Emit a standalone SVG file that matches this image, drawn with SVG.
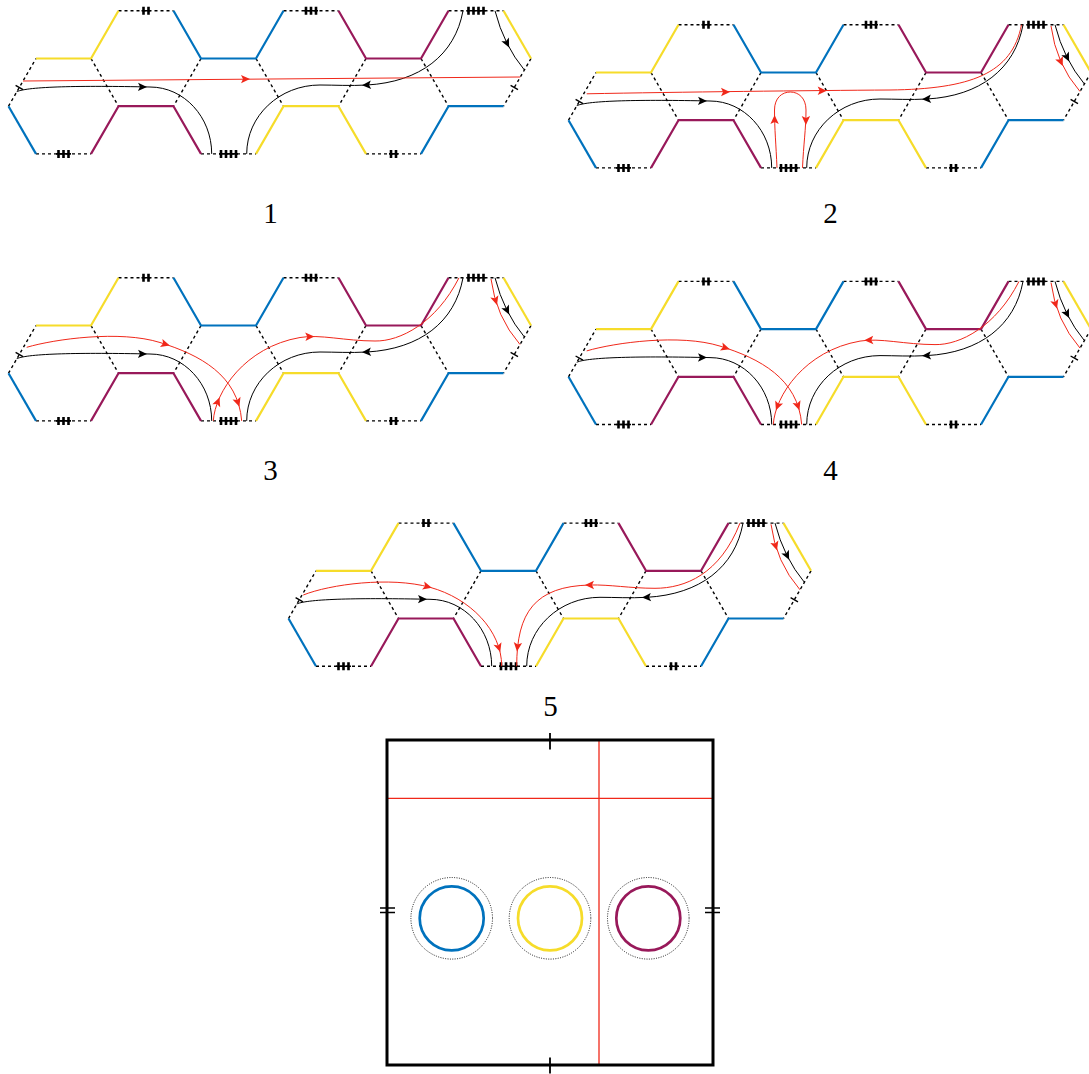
<svg xmlns="http://www.w3.org/2000/svg" width="1089" height="1074" viewBox="0 0 1089 1074">
<style>
.edge{fill:none;stroke-width:2.2;stroke-linejoin:round}
.y{stroke:#F6DC2A}
.b{stroke:#0072BD}
.p{stroke:#98195A}
.dash{fill:none;stroke:#000;stroke-width:1.4;stroke-dasharray:3 3}
.tk{fill:none;stroke:#000;stroke-width:2.6}
.tb{fill:none;stroke:#000;stroke-width:1.6}
.st{fill:none;stroke:#000;stroke-width:1.4}
.blk{fill:none;stroke:#000;stroke-width:1}
.red{fill:none;stroke:#F0281A;stroke-width:1}
.ka{fill:#000}
.ra{fill:#F0281A}
.lbl{font-family:'Liberation Serif','DejaVu Serif',serif;font-size:29px;text-anchor:middle;fill:#000}
</style>
<defs>
<path id="ah" d="M5,0 L-4,-4.2 L-2,0 L-4,4.2 Z"/>
<g id="frame">
<path class="dash" d="M8.5,106.2 L36,58.5 M91,58.5 L118.5,106.2 M36,153.9 L91,153.9 M118.5,10.8 L173.5,10.8 M201,58.5 L173.5,106.2 M201,153.9 L256,153.9 M256,58.5 L283.5,106.2 M283.5,10.8 L338.5,10.8 M366,58.5 L338.5,106.2 M366,153.9 L421,153.9 M421,58.5 L448.5,106.2 M448.5,10.8 L503.5,10.8 M531,58.5 L503.5,106.2"/>
<polyline class="edge y" points="36,58.5 91,58.5 118.5,10.8"/>
<polyline class="edge y" points="256,153.9 283.5,106.2 338.5,106.2 366,153.9"/>
<polyline class="edge y" points="503.5,10.8 531,58.5"/>
<polyline class="edge b" points="8.5,106.2 36,153.9"/>
<polyline class="edge b" points="173.5,10.8 201,58.5 256,58.5 283.5,10.8"/>
<polyline class="edge b" points="421,153.9 448.5,106.2 503.5,106.2"/>
<polyline class="edge p" points="91,153.9 118.5,106.2 173.5,106.2 201,153.9"/>
<polyline class="edge p" points="338.5,10.8 366,58.5 421,58.5 448.5,10.8"/>
<path class="tb" d="M56,153.9 H71 M141.5,10.8 H150.5 M219,153.9 H238 M304,10.8 H318 M389,153.9 H398 M466.5,10.8 H485.5"/>
<path class="tk" d="M58.5,149.9 V157.9 M63.5,149.9 V157.9 M68.5,149.9 V157.9 M143.5,6.8 V14.8 M148.5,6.8 V14.8 M221,149.9 V157.9 M226,149.9 V157.9 M231,149.9 V157.9 M236,149.9 V157.9 M306,6.8 V14.8 M311,6.8 V14.8 M316,6.8 V14.8 M391,149.9 V157.9 M396,149.9 V157.9 M468.5,6.8 V14.8 M473.5,6.8 V14.8 M478.5,6.8 V14.8 M483.5,6.8 V14.8"/>
<path class="st" d="M15.6,85.4 L23,89.6 M510.6,85.4 L518,89.6"/>
</g>
<g id="blackset">
<path class="blk" d="M16.7,91.7 C28,86.5 80,85.5 150,87 C184,87 211.7,117 211.7,153.9"/>
<path class="blk" d="M463,10.8 C455,55 420,82 367,85 C350,86 335,85 320,85 C279.5,85 246.7,115.9 246.7,153.9"/>
<path class="blk" d="M495,10.8 Q504,45.6 524.4,70"/>
<use href="#ah" class="ka" transform="translate(142,86.9) rotate(1)"/>
<use href="#ah" class="ka" transform="translate(367,85) rotate(177)"/>
<use href="#ah" class="ka" transform="translate(506.9,43) rotate(63.6)"/>
</g>
<path id="redF" class="red" d="M491,12 Q496,50 520,77.5"/>
<path id="redA" class="red" d="M26.7,80.3 C55,72 120,63 160,75.5 C200,88 238,108 241.7,153.9"/>
<path id="redB" class="red" d="M213.3,153.9 C215,125 245,80 300,70.5 C320,67 345,74 375,74 C400,74.5 436,56 459,10.8"/>
</defs>

<g id="panel1">
<use href="#frame"/>
<g id="connectors1">
<use href="#blackset"/>
<path class="red" d="M23,81 L520.3,77"/>
<use href="#ah" class="ra" transform="translate(245,79.1) rotate(-0.5)"/>
</g>
<text class="lbl" x="270.5" y="223">1</text>
</g>

<g id="panel2">
<g transform="translate(560,14)">
<use href="#frame"/>
<g id="connectors2">
<use href="#blackset"/>
<path class="red" d="M26.7,79.8 C120,78 250,76.5 330,76 C410,75 452,60 461.5,10.8"/>
<path class="red" d="M217,153.9 C216,130 214.5,115 214.5,96 C214.5,84 222,78 230.3,78 C238.5,78 246,84 246,96 C246,115 243.5,130 242.5,153.9"/>
<use href="#redF"/>
<use href="#ah" class="ra" transform="translate(165,78) rotate(-0.5)"/>
<use href="#ah" class="ra" transform="translate(261.7,76.8) rotate(-0.3)"/>
<use href="#ah" class="ra" transform="translate(214.6,106) rotate(-90)"/>
<use href="#ah" class="ra" transform="translate(245.9,106) rotate(90)"/>
<use href="#ah" class="ra" transform="translate(500.7,47.4) rotate(66)"/>
</g>
</g>
<text class="lbl" x="830.5" y="223">2</text>
</g>

<g id="panel3">
<g transform="translate(0,267)">
<use href="#frame"/>
<g id="connectors3">
<use href="#blackset"/>
<use href="#redA"/>
<use href="#redB"/>
<use href="#redF"/>
<use href="#ah" class="ra" transform="translate(165,77.1) rotate(17)"/>
<use href="#ah" class="ra" transform="translate(237.8,134.9) rotate(71)"/>
<use href="#ah" class="ra" transform="translate(217.7,135.1) rotate(-69)"/>
<use href="#ah" class="ra" transform="translate(309.3,69.6) rotate(-2)"/>
<use href="#ah" class="ra" transform="translate(495.5,33.2) rotate(73)"/>
</g>
</g>
<text class="lbl" x="270.5" y="480">3</text>
</g>

<g id="panel4">
<g transform="translate(560,270.6)">
<use href="#frame"/>
<g id="connectors4">
<use href="#blackset"/>
<use href="#redA"/>
<use href="#redB"/>
<use href="#redF"/>
<use href="#ah" class="ra" transform="translate(165,77.1) rotate(17)"/>
<use href="#ah" class="ra" transform="translate(237.8,134.9) rotate(71)"/>
<use href="#ah" class="ra" transform="translate(217.7,135.1) rotate(111)"/>
<use href="#ah" class="ra" transform="translate(309.3,69.6) rotate(178)"/>
<use href="#ah" class="ra" transform="translate(495.5,33.2) rotate(73)"/>
</g>
</g>
<text class="lbl" x="830.5" y="480">4</text>
</g>

<g id="panel5">
<g transform="translate(280,512.3)">
<use href="#frame"/>
<g id="connectors5">
<use href="#blackset"/>
<path class="red" d="M23.3,82.7 C50,72 110,64 150,75 C190,86 221.7,118 221.7,153.9"/>
<path class="red" d="M236.7,153.9 C236.7,100 255,74 310,72.7 C330,72.2 350,76 375,76 C405,76 440,62 460,10.8"/>
<use href="#redF"/>
<use href="#ah" class="ra" transform="translate(147,74.2) rotate(15)"/>
<use href="#ah" class="ra" transform="translate(218.7,135) rotate(72)"/>
<use href="#ah" class="ra" transform="translate(237.5,134.2) rotate(96)"/>
<use href="#ah" class="ra" transform="translate(310,72.7) rotate(179)"/>
<use href="#ah" class="ra" transform="translate(495.5,33.2) rotate(73)"/>
</g>
</g>
<text class="lbl" x="550.5" y="716">5</text>
</g>

<g id="torus">
<line x1="599" y1="740" x2="599" y2="1065" stroke="#F0281A" stroke-width="1.3"/>
<line x1="387" y1="798.3" x2="713" y2="798.3" stroke="#F0281A" stroke-width="1.3"/>
<rect x="387" y="740" width="326" height="325" fill="none" stroke="#000" stroke-width="3"/>
<path d="M550,733 V749.5 M550,1057.5 V1073.5" stroke="#000" stroke-width="1.8" fill="none"/>
<path d="M380,908 H395 M380,912.5 H395 M705,908 H720 M705,912.5 H720" stroke="#000" stroke-width="1.6" fill="none"/>
<circle cx="451.7" cy="918.3" r="40.8" fill="none" stroke="#000" stroke-width="0.9" stroke-dasharray="1 1.4"/>
<circle cx="550" cy="918.3" r="40.8" fill="none" stroke="#000" stroke-width="0.9" stroke-dasharray="1 1.4"/>
<circle cx="648.3" cy="918.3" r="40.8" fill="none" stroke="#000" stroke-width="0.9" stroke-dasharray="1 1.4"/>
<circle cx="451.7" cy="918.3" r="32" fill="none" stroke="#0072BD" stroke-width="2.7"/>
<circle cx="550" cy="918.3" r="32" fill="none" stroke="#F6DC2A" stroke-width="2.7"/>
<circle cx="648.3" cy="918.3" r="32" fill="none" stroke="#98195A" stroke-width="2.7"/>
</g>
</svg>
